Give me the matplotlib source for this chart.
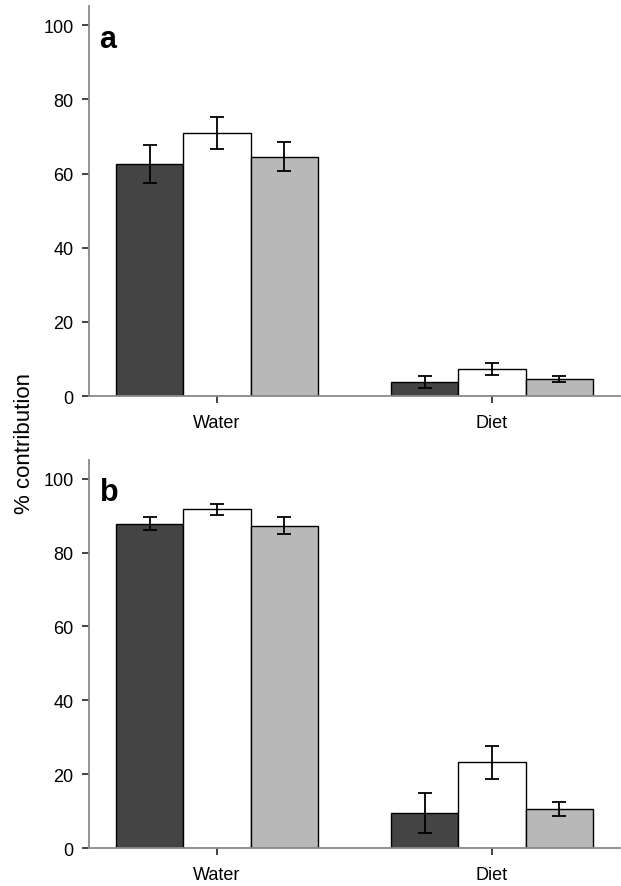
import matplotlib.pyplot as plt
import numpy as np

plt.rcParams['font.family'] = ['Liberation Sans', 'DejaVu Sans']

categories = ["Water", "Diet"]
series_colors = ["#444444", "#ffffff", "#b8b8b8"]

# panel a: means and half-widths of error bars, one list per series
a_means = [[62.6, 3.8], [70.9, 7.3], [64.5, 4.5]]
a_errs = [[5.1, 1.7], [4.3, 1.5], [3.9, 0.8]]

# panel b
b_means = [[87.8, 9.6], [91.7, 23.3], [87.3, 10.6]]
b_errs = [[1.8, 5.4], [1.5, 4.5], [2.4, 1.85]]

panel_labels = ["a", "b"]
yticks = [0, 20, 40, 60, 80, 100]

fig = plt.figure(figsize=(6.21, 8.87), dpi=100)
ax_a = fig.add_axes([0.1433, 0.5524, 0.855, 0.4394])
ax_b = fig.add_axes([0.1433, 0.0425, 0.855, 0.4381])

width = 0.245
x = np.arange(len(categories))
axis_gray = "#8a8a8a"

for ax, means, errs, lab in zip([ax_a, ax_b], [a_means, b_means], [a_errs, b_errs], panel_labels):
    for i, (m, e) in enumerate(zip(means, errs)):
        ax.bar(x + (i - 1) * width, m, width, color=series_colors[i],
               edgecolor="black", linewidth=1.0, zorder=2)
        ax.errorbar(x + (i - 1) * width, m, yerr=e, fmt="none", ecolor="black",
                    elinewidth=1.3, capsize=5, capthick=1.3, zorder=3)
    ax.set_xlim(-0.4655, 1.4655)
    ax.set_ylim(0, 105.1)
    ax.set_yticks(yticks)
    ax.set_xticks(x)
    ax.set_xticklabels(categories)
    for s in ["top", "right"]:
        ax.spines[s].set_visible(False)
    for s in ["left", "bottom"]:
        ax.spines[s].set_color(axis_gray)
        ax.spines[s].set_linewidth(1.3)
    ax.tick_params(axis="both", direction="out", length=5, width=1.2,
                   color="#222222", labelsize=13, pad=6)
    ax.tick_params(axis="x", pad=8)
    ax.text(0.02, 0.955, lab, transform=ax.transAxes, fontsize=22,
            fontweight="bold", va="top", ha="left")

fig.text(0.04, 0.5, "% contribution", rotation=90, fontsize=16,
         va="center", ha="center")

fig.savefig("out.png", dpi=100)
